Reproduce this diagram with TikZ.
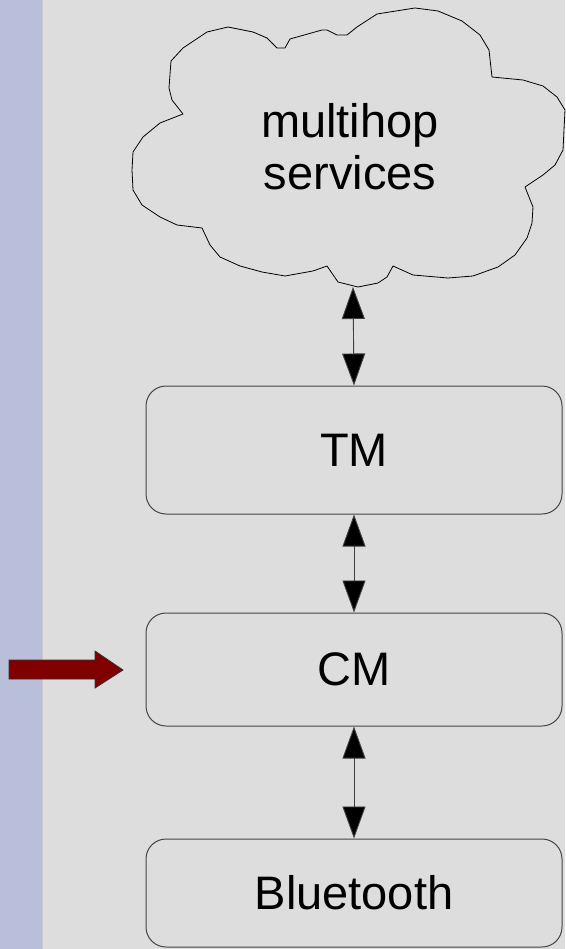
\documentclass[tikz,border=0pt]{standalone}
\usepackage{fontspec}
\setmainfont{Liberation Sans}
\usetikzlibrary{arrows.meta}
\definecolor{bgc}{HTML}{DDDDDD}
\definecolor{stripc}{HTML}{B9BFDA}
\definecolor{edgec}{HTML}{444444}
\definecolor{redarrow}{HTML}{800000}
\tikzset{
  layer/.style={draw=edgec, line width=1pt, rounded corners=20pt, minimum width=416pt, inner sep=0pt, font=\fontsize{47}{52}\selectfont},
  link/.style={line width=0.9pt, draw=black!75, {Triangle[length=32pt,width=23pt,fill=black]}-{Triangle[length=32pt,width=23pt,fill=black]}, shorten <=0pt, shorten >=0pt},
}
\begin{document}
\begin{tikzpicture}[x=1pt,y=-1pt]
\useasboundingbox (0,0) rectangle (565,949);
\fill[bgc] (0,0) rectangle (565,949);
\fill[stripc] (0,0) rectangle (42,949);
\draw[black!20, line width=0.8pt] (42,0) -- (42,949);
% cloud outline
\draw[line width=0.8pt, line join=round] (415,8) -- (438,11) -- (462,21) -- (480,35) -- (489,50) -- (492,77) -- (523,80) -- (543,86) -- (557,97) -- (565,110) -- (563,150) -- (555,165) -- (543,175) -- (525,187) -- (533,207) -- (532,223) -- (527,238) -- (515,255) -- (498,267) -- (473,276) -- (448,278) -- (413,275) -- (393,266) -- (387,277) -- (378,283) -- (358,287) -- (338,282) -- (327,266) -- (313,271) -- (285,276) -- (262,272) -- (240,266) -- (220,257) -- (210,245) -- (202,228) -- (177,225) -- (160,217) -- (142,205) -- (133,190) -- (132,170) -- (133,152) -- (143,137) -- (160,123) -- (183,114) -- (172,100) -- (169,88) -- (171,61) -- (183,48) -- (207,32) -- (228,27) -- (253,32) -- (267,38) -- (277,48) -- (285,48) -- (290,39) -- (322,30) -- (327,30) -- (337,35) -- (347,35) -- (357,27) -- (377,14) -- cycle;
\node[align=center, inner sep=0pt, font=\fontsize{47}{52}\selectfont] (cloud) at (350,147) {multihop\\services};
\coordinate (cloudbottom) at (353,287);
% layers
\node[layer, minimum height=128pt] (tm) at (354,450) {TM};
\node[layer, minimum height=113pt] (cm) at (354,669.5) {CM};
\node[layer, minimum height=108pt] (bt) at (354,893) {Bluetooth};
% links
\draw[link] (cloudbottom) -- (tm.north);
\draw[link] (tm.south) -- (cm.north);
\draw[link] (cm.south) -- (bt.north);
% red block arrow
\filldraw[fill=redarrow, draw=black!80, line width=0.8pt] (9,660) -- (95,660) -- (95,651) -- (123,670) -- (95,688) -- (95,679) -- (9,679) -- cycle;
\end{tikzpicture}
\end{document}
